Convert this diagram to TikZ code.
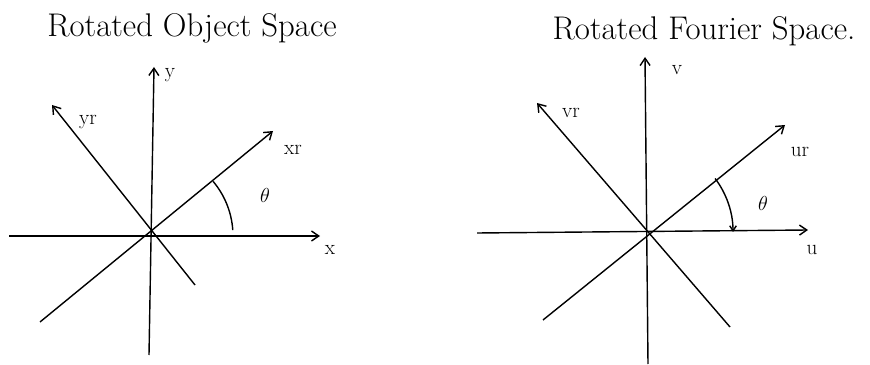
\documentclass[tikz,border=0pt]{standalone}
\usetikzlibrary{arrows.meta}

\begin{document}
\begin{tikzpicture}[
  x=0.03cm, y=0.03cm,
  axis/.style={line width=1.2pt},
  arrowaxis/.style={axis, -{Straight Barb[length=2.2mm, width=3mm]}},
  lbl/.style={font=\fontsize{18}{20}\selectfont, inner sep=1pt},
  heading/.style={font=\fontsize{28}{32}\selectfont},
]
\useasboundingbox (0,0) rectangle (870,364);

% object space
\node[heading] at (192, 336) (title1) {Rotated Object Space};

\coordinate (o1)   at (148, 128);
\coordinate (ybot) at (149, 9);
\coordinate (ytop) at (154, 297);
\coordinate (xlft) at (9, 128);
\coordinate (xrgt) at (320, 128);
\coordinate (xrlo) at (40, 42);
\coordinate (xrhi) at (273, 233);
\coordinate (yrhi) at (52, 259);
\coordinate (yrlo) at (195, 79);

\draw[arrowaxis] (ybot) -- (ytop);
\draw[arrowaxis] (xlft) -- (xrgt);
\draw[arrowaxis] (xrlo) -- (xrhi);
\draw[arrowaxis] (yrlo) -- (yrhi);
\draw[axis] (o1) ++(40:85) arc[start angle=40, end angle=4, radius=85];

\node[lbl] at (170, 289) (ylab)  {y};
\node[lbl] at (330, 114) (xlab)  {x};
\node[lbl] at (293, 214) (xrlab) {xr};
\node[lbl] at (88, 242)  (yrlab) {yr};
\node[lbl] at (265, 169) (th1)   {$\theta$};

% fourier space
\node[heading] at (704, 333) (title2) {Rotated Fourier Space.};

\coordinate (o2)   at (644, 132);
\coordinate (vbot) at (648, 0);
\coordinate (vtop) at (645, 307);
\coordinate (ulft) at (477, 131);
\coordinate (urgt) at (808, 134);
\coordinate (urlo) at (543, 44);
\coordinate (urhi) at (785, 239);
\coordinate (vrhi) at (537, 261);
\coordinate (vrlo) at (730, 37);

\draw[arrowaxis] (vbot) -- (vtop);
\draw[arrowaxis] (ulft) -- (urgt);
\draw[arrowaxis] (urlo) -- (urhi);
\draw[arrowaxis] (vrlo) -- (vrhi);
\draw[axis, -{Straight Barb[length=1.5mm, width=2mm]}]
  (o2) ++(37:89) arc[start angle=37, end angle=0, radius=89];

\node[lbl] at (677, 294) (vlab)  {v};
\node[lbl] at (812, 114) (ulab)  {u};
\node[lbl] at (800, 212) (urlab) {ur};
\node[lbl] at (571, 251) (vrlab) {vr};
\node[lbl] at (763, 161) (th2)   {$\theta$};
\end{tikzpicture}
\end{document}
